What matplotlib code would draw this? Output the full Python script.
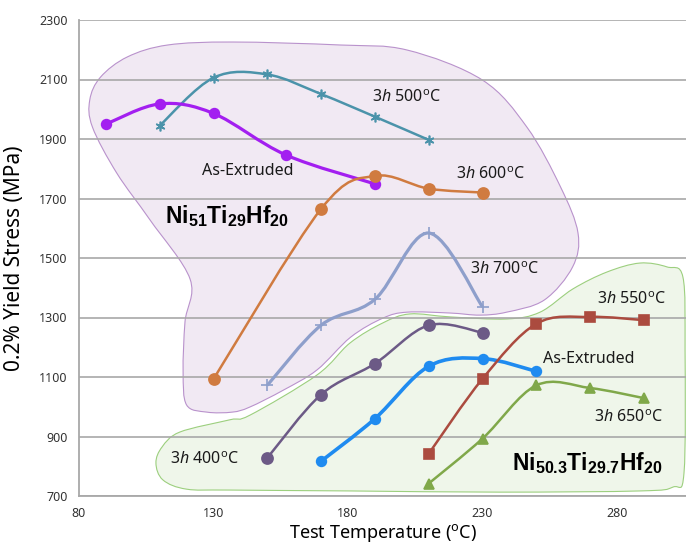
import numpy as np
import matplotlib
matplotlib.use("Agg")
import matplotlib.pyplot as plt
from matplotlib.path import Path
from matplotlib.patches import PathPatch

plt.rcParams['font.family'] = ['Noto Sans', 'DejaVu Sans']
plt.rcParams['mathtext.fontset'] = 'custom'
plt.rcParams['mathtext.rm'] = 'Noto Sans'
plt.rcParams['mathtext.it'] = 'Noto Sans:italic'
plt.rcParams['mathtext.bf'] = 'Liberation Sans:bold'

# Ni51Ti29Hf20
t_ext51 = [90, 110, 130, 157, 190]
s_ext51 = [1950, 2018, 1986, 1846, 1749]
t_500 = [110, 130, 150, 170, 190, 210]
s_500 = [1945, 2106, 2117, 2051, 1975, 1897]
t_600 = [130, 170, 190, 210, 230]
s_600 = [1093, 1665, 1776, 1733, 1720]
t_700 = [150, 170, 190, 210, 230]
s_700 = [1072, 1274, 1361, 1584, 1336]

# Ni50.3Ti29.7Hf20
t_400 = [150, 170, 190, 210, 230]
s_400 = [828, 1041, 1145, 1274, 1249]
t_ext50 = [170, 190, 210, 230, 250]
s_ext50 = [817, 960, 1136, 1162, 1119]
t_550 = [210, 230, 250, 270, 290]
s_550 = [842, 1094, 1279, 1302, 1291]
t_650 = [210, 230, 250, 270, 290]
s_650 = [742, 893, 1072, 1063, 1029]

# hand drawn groupings
blob51_t = [84, 88, 98, 113, 137, 177, 202, 230, 246.5, 259, 265.5, 263.5, 253, 239, 229,
            218, 202, 193, 181, 168.5, 156, 143.5, 137, 127.5, 120, 118.7, 119.4, 121.3, 106.4, 94, 85]
blob51_s = [2031, 2108, 2176, 2216, 2226, 2216, 2199, 2098, 1940, 1739, 1584, 1470, 1359, 1318, 1308,
            1315, 1318, 1298, 1234, 1124, 1056, 999, 982, 982, 1006, 1117, 1285, 1429, 1628, 1786, 1940]
blob50_t = [108.6, 110.9, 117.5, 136, 143.6, 168.5, 180.7, 193, 203, 218, 239, 251.4, 263.6, 276.3,
            288.5, 298.6, 304.5, 305.3, 304.9, 300.8, 288.5, 236.5, 180.7, 136, 120, 111.2]
blob50_s = [811, 865, 915, 956, 972, 1107, 1214, 1282, 1312, 1302, 1295, 1318, 1396, 1453,
            1483, 1470, 1436, 1191, 777, 730, 717, 713, 717, 720, 723, 754]


def smooth(xs, ys, closed=False):
    p = np.column_stack([xs, ys]).astype(float)
    n = len(p)
    verts = [p[0]]
    codes = [Path.MOVETO]
    for i in range(n if closed else n - 1):
        p0 = p[i - 1] if (i > 0 or closed) else p[i]
        p1 = p[i]
        p2 = p[(i + 1) % n]
        p3 = p[(i + 2) % n] if (closed or i + 2 < n) else p2
        verts += [p1 + (p2 - p0) / 6, p2 - (p3 - p1) / 6, p2]
        codes += [Path.CURVE4] * 3
    return Path(verts, codes)


fig = plt.figure(figsize=(6.86, 5.44), dpi=100)
ax = fig.add_axes([79 / 686, 48 / 544, 607 / 686, 476 / 544])
ax.set_xlim(80, 305.65)
ax.set_ylim(700, 2300)

ax.add_patch(PathPatch(smooth(blob51_t, blob51_s, True), facecolor='#f1e9f3',
                       edgecolor='#b992cc', lw=0.8, zorder=0.1))
ax.add_patch(PathPatch(smooth(blob50_t, blob50_s, True), facecolor='#eff6ea',
                       edgecolor='#9ccf7e', lw=0.8, zorder=0.1))

series = [
    (t_500, s_500, '#4b93aa', (6, 2, 0), 7, 1.8),
    (t_ext51, s_ext51, '#a31ff0', 'o', 7, 2.3),
    (t_600, s_600, '#d07b40', 'o', 8, 1.8),
    (t_700, s_700, '#8e9fcb', '+', 8, 2.3),
    (t_400, s_400, '#6c5a86', 'o', 8, 1.8),
    (t_ext50, s_ext50, '#1f8bf0', 'o', 7, 2.6),
    (t_550, s_550, '#ab4b3f', 's', 7, 1.8),
    (t_650, s_650, '#80a84a', '^', 7, 1.8),
]
for t, s, c, m, ms, lw in series:
    ax.add_patch(PathPatch(smooth(t, s), facecolor='none', edgecolor=c, lw=lw, zorder=3))
    ax.plot(t, s, linestyle='none', marker=m, color=c, markersize=ms,
            markeredgewidth=1.2, zorder=4)

ax.set_axisbelow(True)
ax.grid(axis='y', color='#a8a8a8', lw=1.2)
ax.set_xticks([80, 130, 180, 230, 280])
ax.set_yticks(np.arange(700, 2301, 200))
ax.tick_params(length=0, labelsize=9, colors='#333333', pad=8)
for sp in ['top', 'right']:
    ax.spines[sp].set_visible(False)
for sp in ['left', 'bottom']:
    ax.spines[sp].set_color('#a8a8a8')
    ax.spines[sp].set_linewidth(1.3)

ax.set_ylabel('0.2% Yield Stress (MPa)', fontsize=15, labelpad=10)
ax.set_xlabel(r'Test Temperature ($^{\mathrm{o}}$C)', fontsize=13, labelpad=1)

deg = r'$^{\mathrm{o}}$C'
kw = dict(fontsize=11.5, va='center', ha='left', color='#1a1a1a')
ax.text(189, 2038, r'3$\mathit{h}$ 500' + deg, **kw)
ax.text(220, 1779, r'3$\mathit{h}$ 600' + deg, **kw)
ax.text(225.4, 1462, r'3$\mathit{h}$ 700' + deg, **kw)
ax.text(272.6, 1359, r'3$\mathit{h}$ 550' + deg, **kw)
ax.text(271.4, 962, r'3$\mathit{h}$ 650' + deg, **kw)
ax.text(113.8, 821, r'3$\mathit{h}$ 400' + deg, **kw)
ax.text(125.7, 1792, 'As-Extruded', **kw)
ax.text(252.5, 1160, 'As-Extruded', **kw)
ax.text(112, 1640, r'$\mathbf{Ni_{51}Ti_{29}Hf_{20}}$', fontsize=16.5, va='center', ha='left')
ax.text(241, 810, r'$\mathbf{Ni_{50.3}Ti_{29.7}Hf_{20}}$', fontsize=16.5, va='center', ha='left')

fig.savefig('out.png', dpi=100)
